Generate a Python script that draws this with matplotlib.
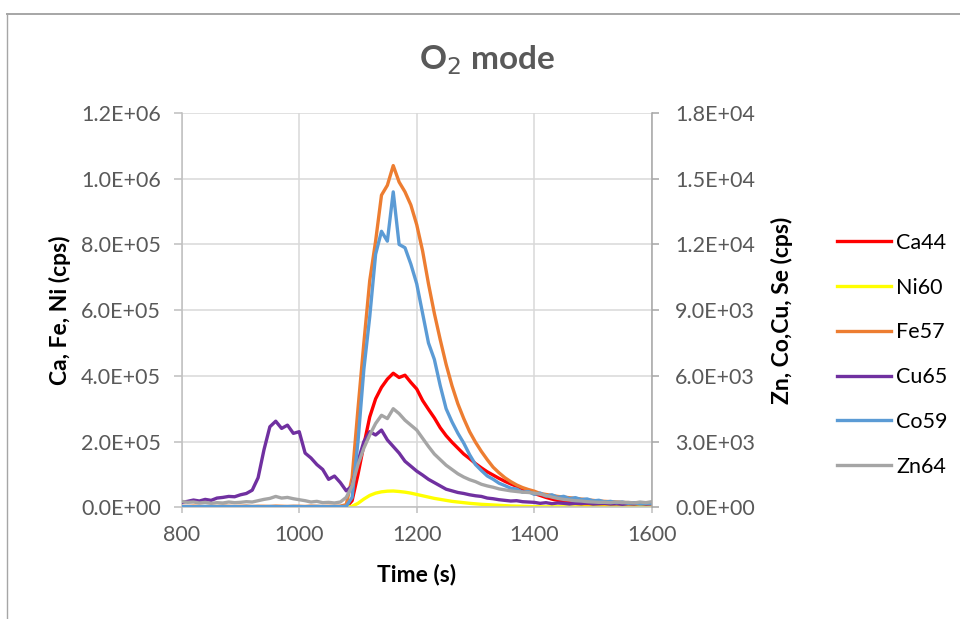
import numpy as np
import matplotlib.pyplot as plt
from matplotlib.lines import Line2D

# time axis (s), one reading every 10 s
t = np.arange(800, 1601, 10)

# left axis series (cps)
ca44 = [0]*29 + [20000, 100000, 190000, 275000, 330000, 365000, 390000, 408000, 395000, 402000,
        380000, 360000, 325000, 298000, 272000, 242000, 218000, 198000, 180000, 162000,
        148000, 133000, 120000, 108000, 98000, 88000, 79000, 71000, 64000, 56000,
        49000, 42000, 36000, 30000, 25000, 21000, 17000, 14000, 11000, 9000,
        7000, 6000, 5000, 4000, 3000, 2000, 2000, 2000, 2000, 2000,
        2000, 2000]
ni60 = [0]*29 + [3000, 12000, 25000, 36000, 43000, 47000, 49000, 49500, 48000, 46000,
        43000, 39000, 35000, 31000, 27000, 24000, 21000, 18000, 16000, 14000,
        12000, 10500, 9000, 8000, 7000, 6000, 5000, 4000, 3500, 3000,
        2500, 2000, 1500, 1500, 1500, 1500, 1500, 1200, 1200, 1200,
        1200, 1200, 1200, 1000, 1000, 1000, 1000, 1000, 1000, 1000,
        1000, 1000]
fe57 = [3000, 2500, 3500, 3000, 2000, 3000, 2500, 3500, 3000, 2500,
        3000, 3500, 2500, 3000, 3000, 2500, 3500, 3000, 2500, 3000,
        3000, 2500, 3500, 3000, 2500, 3000, 3000, 3500, 8000, 90000,
        300000, 500000, 690000, 810000, 950000, 980000, 1040000, 990000, 960000, 920000,
        860000, 780000, 680000, 590000, 510000, 435000, 370000, 315000, 270000, 230000,
        198000, 170000, 145000, 122000, 105000, 90000, 78000, 68000, 60000, 54000,
        49000, 42000, 39000, 36000, 33000, 31000, 29000, 27000, 25000, 23000,
        21000, 19000, 18000, 17000, 16000, 15000, 14000, 13000, 12000, 11000,
        10000]

# right axis series (cps)
cu65 = [225, 270, 330, 285, 360, 315, 420, 450, 495, 480,
        570, 630, 780, 1350, 2625, 3675, 3930, 3600, 3750, 3375,
        3450, 2475, 2250, 1950, 1725, 1275, 1425, 1125, 750, 975,
        2100, 3000, 3450, 3300, 3525, 3075, 2775, 2475, 2100, 1875,
        1650, 1470, 1275, 1125, 975, 825, 750, 675, 630, 570,
        525, 495, 420, 390, 345, 315, 285, 300, 255, 240,
        225, 180, 210, 165, 195, 180, 150, 180, 165, 195,
        150, 165, 180, 150, 165, 135, 165, 150, 180, 150,
        165]
co59 = [30, 35, 25, 30, 40, 30, 25, 35, 30, 30,
        25, 35, 30, 30, 25, 35, 30, 25, 30, 35,
        30, 25, 30, 35, 30, 25, 30, 30, 40, 450,
        3000, 6300, 8700, 11550, 12600, 12150, 14400, 12000, 11850, 11100,
        10200, 8850, 7500, 6750, 5550, 4500, 3900, 3380, 2930, 2400,
        1950, 1680, 1430, 1280, 1100, 990, 870, 830, 690, 720,
        590, 650, 510, 570, 450, 500, 390, 440, 350, 380,
        290, 320, 240, 270, 210, 240, 180, 210, 150, 180,
        170]
zn64 = [270, 225, 240, 195, 225, 180, 210, 195, 240, 210,
        225, 255, 240, 300, 360, 405, 495, 420, 450, 390,
        345, 300, 240, 270, 210, 225, 195, 240, 450, 975,
        1950, 2700, 3300, 3825, 4200, 4050, 4500, 4275, 3975, 3750,
        3525, 3150, 2775, 2430, 2175, 1920, 1725, 1530, 1380, 1260,
        1170, 1050, 975, 915, 840, 795, 750, 720, 690, 675,
        645, 600, 540, 465, 405, 360, 330, 300, 285, 255,
        240, 225, 225, 210, 240, 210, 225, 195, 240, 210,
        255]

left_ticks = np.arange(0, 1.2e6 + 1, 2e5)
right_ticks = np.arange(0, 1.8e4 + 1, 3e3)

plt.rcParams['font.family'] = ['Lato', 'DejaVu Sans']
grey_txt = '#595959'

fig = plt.figure(figsize=(9.6, 6.19), dpi=100)
ax = fig.add_axes([0.1893, 0.1805, 0.4896, 0.6369])
ax2 = ax.twinx()

lw = 2.4
l1, = ax.plot(t, ca44, color='#FF0000', lw=lw, label='Ca44')
l2, = ax.plot(t, ni60, color='#FFFF00', lw=lw, label='Ni60')
l3, = ax.plot(t, fe57, color='#ED7D31', lw=lw, label='Fe57')
l4, = ax2.plot(t, cu65, color='#7030A0', lw=lw, label='Cu65')
l5, = ax2.plot(t, co59, color='#5B9BD5', lw=lw, label='Co59')
l6, = ax2.plot(t, zn64, color='#A5A5A5', lw=lw, label='Zn64')

ax.set_xlim(800, 1600)
ax.set_ylim(0, 1.2e6)
ax2.set_ylim(0, 1.8e4)
ax.set_xticks(np.arange(800, 1601, 200))
ax.set_yticks(left_ticks)
ax2.set_yticks(right_ticks)
ax.set_yticklabels(['%.1E' % v for v in left_ticks])
ax2.set_yticklabels(['%.1E' % v for v in right_ticks])

ax.grid(True, color='#D9D9D9', lw=1.1)
ax.set_axisbelow(True)

for a in (ax, ax2):
    for s in a.spines.values():
        s.set_visible(False)
ax.spines['left'].set_visible(True)
ax.spines['left'].set_color('#BFBFBF')
ax.spines['bottom'].set_visible(True)
ax.spines['bottom'].set_color('#BFBFBF')
ax2.spines['right'].set_visible(True)
ax2.spines['right'].set_color('#A6A6A6')
ax.spines['left'].set_linewidth(1.1)
ax.spines['bottom'].set_linewidth(1.1)
ax2.spines['right'].set_linewidth(1.1)

ax.tick_params(axis='x', direction='out', length=4.5, width=1.1, color='#BFBFBF',
               labelsize=15.5, labelcolor=grey_txt, pad=8)
ax.tick_params(axis='y', direction='out', length=6, width=1.1, color='#BFBFBF',
               labelsize=15.5, labelcolor=grey_txt, pad=9)
ax2.tick_params(axis='y', direction='out', length=5, width=1.1, color='#A6A6A6',
                labelsize=15.5, labelcolor=grey_txt, pad=12)

ax.set_xlabel('Time (s)', fontsize=16.5, fontweight='bold', labelpad=14)
ax.set_ylabel('Ca, Fe, Ni (cps)', fontsize=16.5, fontweight='bold', labelpad=7)
ax2.set_ylabel('Zn, Co,Cu, Se (cps)', fontsize=16.5, fontweight='bold', labelpad=11)

fig.text(0.507, 0.903, 'O$_2$ mode', ha='center', va='center', fontsize=24,
         fontweight='bold', color=grey_txt)

fig.legend(handles=[l1, l2, l3, l4, l5, l6], loc='center left',
           bbox_to_anchor=(837 / 960, 0.427), frameon=False, fontsize=15.5,
           handlelength=2.5, handletextpad=0.25, labelspacing=1.15,
           borderpad=0, borderaxespad=0)

# chart area border (top and left edges visible)
fig.add_artist(Line2D([7 / 960, 1], [1 - 14 / 619, 1 - 14 / 619], color='#A6A6A6', lw=1.4))
fig.add_artist(Line2D([7 / 960, 7 / 960], [0, 1 - 14 / 619], color='#A6A6A6', lw=1.0))

fig.savefig('out.png', dpi=100)
